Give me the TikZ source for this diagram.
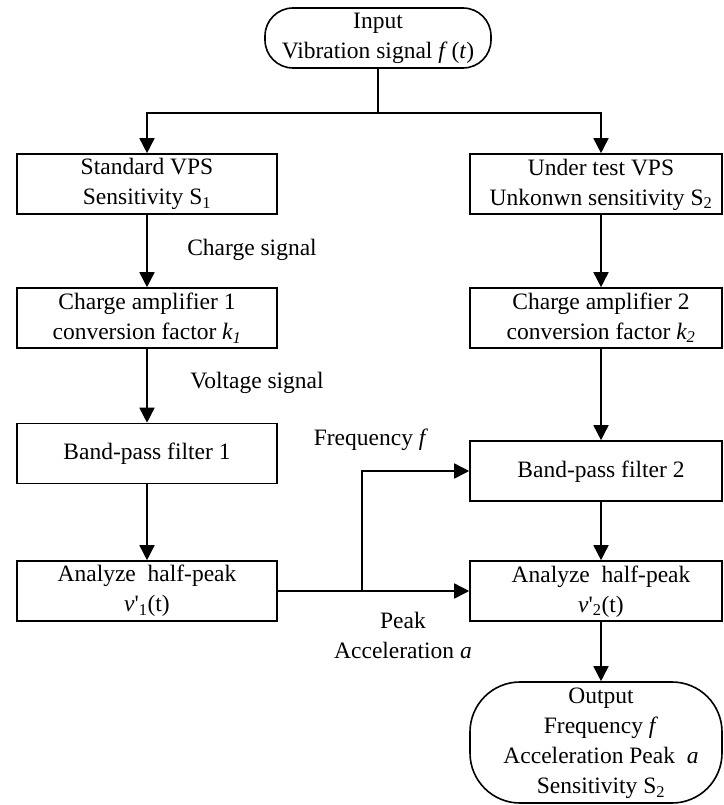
\documentclass[tikz,border=0pt]{standalone}
\usepackage{fontspec}
\setmainfont{Liberation Serif}
\usetikzlibrary{arrows.meta,calc}
\tikzset{
  base/.style={draw, line width=1.6pt, align=center, inner sep=0pt,
    font=\fontsize{23.5}{30}\selectfont},
  lbox/.style={base, minimum width=260, minimum height=60},
  rbox/.style={base, minimum width=252, minimum height=60},
  term/.style={base, rounded corners=28},
  lbl/.style={align=center, inner sep=0pt, font=\fontsize{23.5}{30}\selectfont},
  arr/.style={line width=1.6pt, -{Triangle[length=15pt,width=15pt]}},
  ln/.style={line width=1.6pt}
}
\newcommand{\rcol}[1]{\hspace*{10pt}\begin{tabular}{@{}c@{}}#1\end{tabular}}
\begin{document}
\begin{tikzpicture}[x=1pt,y=-1pt]
\useasboundingbox (0,0) rectangle (723,805);
\coordinate (xR) at (601,0);
% input
\node[term, minimum width=226, minimum height=60] (in) at (378,38)
  {Input\\Vibration signal \textit{f}\,(\textit{t})};
% left column
\node[lbox] (s1) at (147,184) {Standard VPS\\Sensitivity S\textsubscript{1}};
\node[lbox] (c1) at (147,318) {Charge amplifier 1\\conversion factor \textit{k\textsubscript{1}}};
\node[lbox] (b1) at (147,453.5) {Band-pass filter 1};
\node[lbox] (a1) at (147,591) {Analyze\ \ half-peak\\\textit{v}\textquotesingle\textsubscript{1}(t)};
% right column
\node[rbox] (s2) at (596,184) {\rcol{Under test VPS\\Unkonwn sensitivity S\textsubscript{2}}};
\node[rbox] (c2) at (596,318) {\rcol{Charge amplifier 2\\conversion factor \textit{k\textsubscript{2}}}};
\node[rbox] (b2) at (596,471) {\rcol{Band-pass filter 2}};
\node[rbox] (a2) at (596,591) {\rcol{Analyze\ \ half-peak\\\textit{v}\textquotesingle\textsubscript{2}(t)}};
\node[term, rounded corners=50, minimum width=252, minimum height=121] (out) at (596,742.5)
  {\rcol{Output\\Frequency \textit{f}\\Acceleration Peak\ \ \textit{a}\\Sensitivity S\textsubscript{2}}};
% labels
\node[lbl] (lcs) at (252,250) {Charge signal};
\node[lbl] (lvs) at (257,383) {Voltage signal};
\node[lbl] (lfr) at (371,440) {Frequency \textit{f}};
\node[lbl] (lpk) at (403,635) {Peak\\Acceleration \textit{a}};
% connectors
\draw[ln] (in.south) -- ++(0,44) coordinate (jt);
\draw[arr] (jt) -| (s1.north);
\draw[arr] (jt) -| (s2.north -| xR);
\draw[arr] (s1) -- (c1);
\draw[arr] (c1) -- (b1);
\draw[arr] (b1) -- (a1);
\draw[arr] (s2.south -| xR) -- (c2.north -| xR);
\draw[arr] (c2.south -| xR) -- (b2.north -| xR);
\draw[arr] (b2.south -| xR) -- (a2.north -| xR);
\draw[arr] (a2.south -| xR) -- (out.north -| xR);
\coordinate (jm) at (362,591);
\draw[arr] (a1.east) -- (a2.west);
\draw[arr] (jm) |- (b2.west);
\end{tikzpicture}
\end{document}
